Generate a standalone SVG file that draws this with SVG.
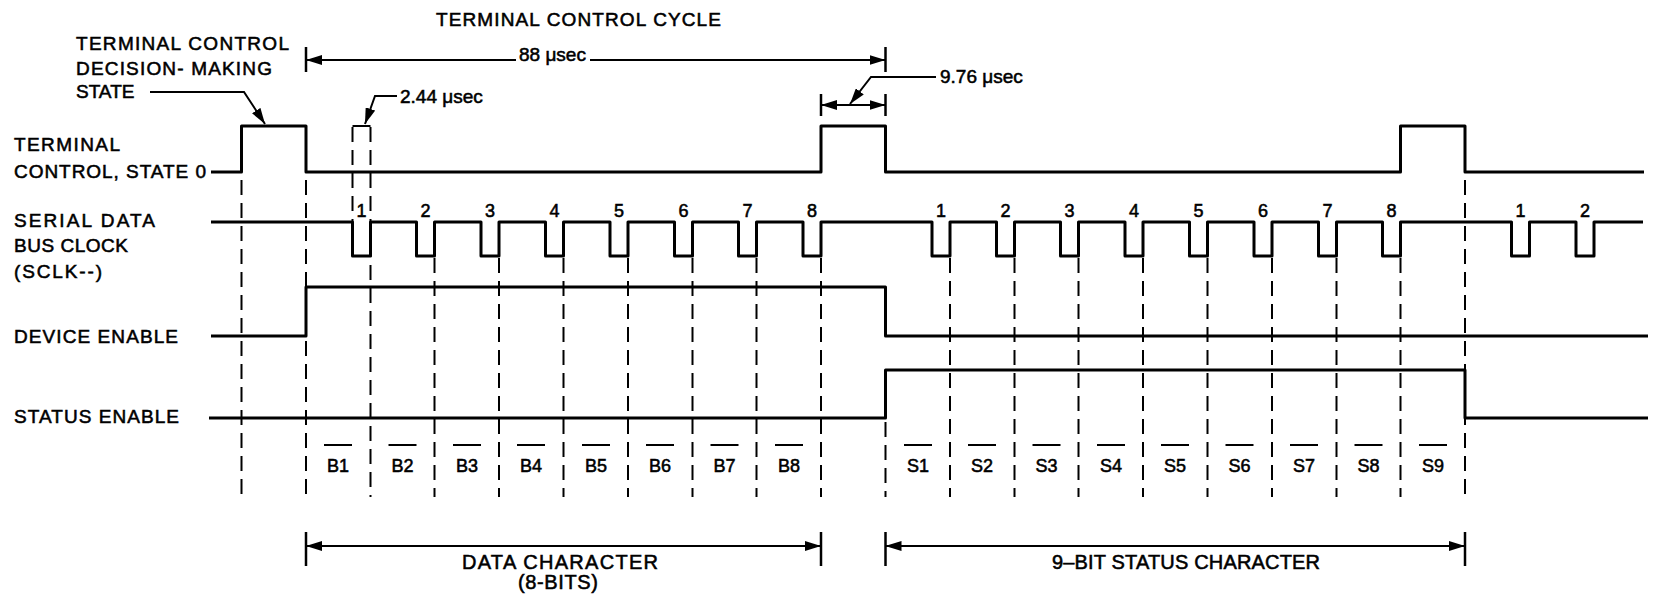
<svg xmlns="http://www.w3.org/2000/svg" width="1655" height="600" viewBox="0 0 1655 600">
<defs>
<marker id="ah" viewBox="0 0 16 10" refX="16" refY="5" markerWidth="16" markerHeight="10" markerUnits="userSpaceOnUse" orient="auto-start-reverse"><path d="M0,0 L16,5 L0,10 z" fill="#000"/></marker>
</defs>
<style>
text{font-family:"Liberation Sans",Arial,sans-serif;fill:#000;stroke:#000;stroke-width:0.55px}
.lbl{font-size:19px}
.sig{fill:none;stroke:#000;stroke-width:3;stroke-linejoin:round}
.dash{stroke:#000;stroke-width:2;stroke-dasharray:15 8;fill:none}
.dim{stroke:#000;stroke-width:2;fill:none}
.bar{stroke:#000;stroke-width:2.5}
.num{font-size:18px;text-anchor:middle}
.bit{font-size:18px;text-anchor:middle}
.ob{stroke:#000;stroke-width:2}
.big{font-size:20px;text-anchor:middle}
</style>
<rect width="1655" height="600" fill="#fff"/>

<g id="title"><text class="lbl" x="436" y="26" textLength="285" lengthAdjust="spacing">TERMINAL CONTROL CYCLE</text></g>

<g id="decision-label">
<text class="lbl" x="76" y="50" textLength="213" lengthAdjust="spacing">TERMINAL CONTROL</text>
<text class="lbl" x="76" y="75" textLength="196" lengthAdjust="spacing">DECISION- MAKING</text>
<text class="lbl" x="76" y="98">STATE</text>
</g>

<g id="sig-tc">
<text class="lbl" x="14" y="151" textLength="106" lengthAdjust="spacing">TERMINAL</text>
<text class="lbl" x="14" y="178" textLength="192" lengthAdjust="spacing">CONTROL, STATE 0</text>
<path class="sig" d="M211,172 H241.5 V126 H306 V172 H821 V126 H885.5 V172 H1400.5 V126 H1465 V172 H1644"/>
</g>

<g id="sig-sclk">
<text class="lbl" x="14" y="227" textLength="141" lengthAdjust="spacing">SERIAL DATA</text>
<text class="lbl" x="14" y="252" textLength="114" lengthAdjust="spacing">BUS CLOCK</text>
<text class="lbl" x="14" y="278" textLength="88" lengthAdjust="spacing">(SCLK--)</text>
<path class="sig" d="M211,222 H352.5 V256 H370.5 V222 H416.5 V256 H434.5 V222 H481 V256 H499 V222 H545.5 V256 H563.5 V222 H610 V256 H628 V222 H674.5 V256 H692.5 V222 H738.5 V256 H756.5 V222 H803 V256 H821 V222 H932 V256 H950 V222 H996.5 V256 H1014.5 V222 H1060.5 V256 H1078.5 V222 H1125 V256 H1143 V222 H1189.5 V256 H1207.5 V222 H1254 V256 H1272 V222 H1318.5 V256 H1336.5 V222 H1382.5 V256 H1400.5 V222 H1511.5 V256 H1529.5 V222 H1576 V256 H1594 V222 H1643"/>
<text class="num" x="361.5" y="217">1</text>
<text class="num" x="425.5" y="217">2</text>
<text class="num" x="490" y="217">3</text>
<text class="num" x="554.5" y="217">4</text>
<text class="num" x="619" y="217">5</text>
<text class="num" x="683.5" y="217">6</text>
<text class="num" x="747.5" y="217">7</text>
<text class="num" x="812" y="217">8</text>
<text class="num" x="941" y="217">1</text>
<text class="num" x="1005.5" y="217">2</text>
<text class="num" x="1069.5" y="217">3</text>
<text class="num" x="1134" y="217">4</text>
<text class="num" x="1198.5" y="217">5</text>
<text class="num" x="1263" y="217">6</text>
<text class="num" x="1327.5" y="217">7</text>
<text class="num" x="1391.5" y="217">8</text>
<text class="num" x="1520.5" y="217">1</text>
<text class="num" x="1585" y="217">2</text>
</g>

<g id="sig-device">
<text class="lbl" x="14" y="343" textLength="164" lengthAdjust="spacing">DEVICE ENABLE</text>
<path class="sig" d="M211,336 H306 V287 H885.5 V336 H1648"/>
</g>

<g id="sig-status">
<text class="lbl" x="14" y="423" textLength="165" lengthAdjust="spacing">STATUS ENABLE</text>
<path class="sig" d="M209,418 H885.5 V370 H1465 V418 H1648"/>
</g>

<g id="bits">
<g id="b1"><line class="ob" x1="324" y1="445" x2="352" y2="445"/><text class="bit" x="338" y="472">B1</text></g>
<g id="b2"><line class="ob" x1="388.5" y1="445" x2="416.5" y2="445"/><text class="bit" x="402.5" y="472">B2</text></g>
<g id="b3"><line class="ob" x1="453" y1="445" x2="481" y2="445"/><text class="bit" x="467" y="472">B3</text></g>
<g id="b4"><line class="ob" x1="517" y1="445" x2="545" y2="445"/><text class="bit" x="531" y="472">B4</text></g>
<g id="b5"><line class="ob" x1="582" y1="445" x2="610" y2="445"/><text class="bit" x="596" y="472">B5</text></g>
<g id="b6"><line class="ob" x1="646" y1="445" x2="674" y2="445"/><text class="bit" x="660" y="472">B6</text></g>
<g id="b7"><line class="ob" x1="710.5" y1="445" x2="738.5" y2="445"/><text class="bit" x="724.5" y="472">B7</text></g>
<g id="b8"><line class="ob" x1="775" y1="445" x2="803" y2="445"/><text class="bit" x="789" y="472">B8</text></g>
<g id="s1"><line class="ob" x1="904" y1="445" x2="932" y2="445"/><text class="bit" x="918" y="472">S1</text></g>
<g id="s2"><line class="ob" x1="968" y1="445" x2="996" y2="445"/><text class="bit" x="982" y="472">S2</text></g>
<g id="s3"><line class="ob" x1="1032.5" y1="445" x2="1060.5" y2="445"/><text class="bit" x="1046.5" y="472">S3</text></g>
<g id="s4"><line class="ob" x1="1097" y1="445" x2="1125" y2="445"/><text class="bit" x="1111" y="472">S4</text></g>
<g id="s5"><line class="ob" x1="1161" y1="445" x2="1189" y2="445"/><text class="bit" x="1175" y="472">S5</text></g>
<g id="s6"><line class="ob" x1="1225.5" y1="445" x2="1253.5" y2="445"/><text class="bit" x="1239.5" y="472">S6</text></g>
<g id="s7"><line class="ob" x1="1290" y1="445" x2="1318" y2="445"/><text class="bit" x="1304" y="472">S7</text></g>
<g id="s8"><line class="ob" x1="1354.5" y1="445" x2="1382.5" y2="445"/><text class="bit" x="1368.5" y="472">S8</text></g>
<g id="s9"><line class="ob" x1="1419" y1="445" x2="1447" y2="445"/><text class="bit" x="1433" y="472">S9</text></g>
</g>

<g id="annotations">
<text class="lbl" x="519" y="61">88 μsec</text>
<text class="lbl" x="940" y="83">9.76 μsec</text>
<text class="lbl" x="400" y="103">2.44 μsec</text>
<text class="big" x="560" y="569" textLength="196" lengthAdjust="spacing">DATA CHARACTER</text>
<text class="big" x="558" y="589" textLength="80" lengthAdjust="spacing">(8-BITS)</text>
<text class="big" x="1186" y="569" textLength="268" lengthAdjust="spacing">9–BIT STATUS CHARACTER</text>
</g>

<g id="connectors">
<line class="dash" x1="241.5" y1="180" x2="241.5" y2="497"/>
<line class="dash" x1="306" y1="180" x2="306" y2="497"/>
<line class="dash" x1="370.5" y1="127" x2="370.5" y2="497"/>
<line class="dash" x1="352.5" y1="127" x2="352.5" y2="222" stroke-dasharray="14 5 2 5"/>
<line class="dash" x1="434.5" y1="258" x2="434.5" y2="497"/>
<line class="dash" x1="499" y1="258" x2="499" y2="497"/>
<line class="dash" x1="563.5" y1="258" x2="563.5" y2="497"/>
<line class="dash" x1="628" y1="258" x2="628" y2="497"/>
<line class="dash" x1="692.5" y1="258" x2="692.5" y2="497"/>
<line class="dash" x1="756.5" y1="258" x2="756.5" y2="497"/>
<line class="dash" x1="821" y1="258" x2="821" y2="497"/>
<line class="dash" x1="885.5" y1="422" x2="885.5" y2="497"/>
<line class="dash" x1="950" y1="258" x2="950" y2="497"/>
<line class="dash" x1="1014.5" y1="258" x2="1014.5" y2="497"/>
<line class="dash" x1="1078.5" y1="258" x2="1078.5" y2="497"/>
<line class="dash" x1="1143" y1="258" x2="1143" y2="497"/>
<line class="dash" x1="1207.5" y1="258" x2="1207.5" y2="497"/>
<line class="dash" x1="1272" y1="258" x2="1272" y2="497"/>
<line class="dash" x1="1336.5" y1="258" x2="1336.5" y2="497"/>
<line class="dash" x1="1400.5" y1="258" x2="1400.5" y2="497"/>
<line class="dash" x1="1465" y1="180" x2="1465" y2="497"/>
<line class="dim" x1="352.5" y1="126" x2="370.5" y2="126"/>

<line class="bar" x1="306" y1="47" x2="306" y2="72"/>
<line class="bar" x1="885.5" y1="47" x2="885.5" y2="72"/>
<line class="dim" x1="306" y1="60" x2="516" y2="60" marker-start="url(#ah)"/>
<line class="dim" x1="590" y1="60" x2="885.5" y2="60" marker-end="url(#ah)"/>

<line class="bar" x1="821" y1="94" x2="821" y2="116"/>
<line class="bar" x1="885.5" y1="94" x2="885.5" y2="116"/>
<line class="dim" x1="821" y1="105" x2="885.5" y2="105" marker-start="url(#ah)" marker-end="url(#ah)"/>
<path class="dim" d="M936,77 H871 L850,104" marker-end="url(#ah)"/>
<path class="dim" d="M397,96 H375 L365,124" marker-end="url(#ah)"/>
<path class="dim" d="M150,92 H244 L265,124" marker-end="url(#ah)"/>

<line class="bar" x1="306" y1="532" x2="306" y2="566"/>
<line class="bar" x1="821" y1="532" x2="821" y2="566"/>
<line class="dim" x1="306" y1="546" x2="821" y2="546" marker-start="url(#ah)" marker-end="url(#ah)"/>
<line class="bar" x1="885.5" y1="532" x2="885.5" y2="566"/>
<line class="bar" x1="1465" y1="532" x2="1465" y2="566"/>
<line class="dim" x1="885.5" y1="546" x2="1465" y2="546" marker-start="url(#ah)" marker-end="url(#ah)"/>
</g>
</svg>
